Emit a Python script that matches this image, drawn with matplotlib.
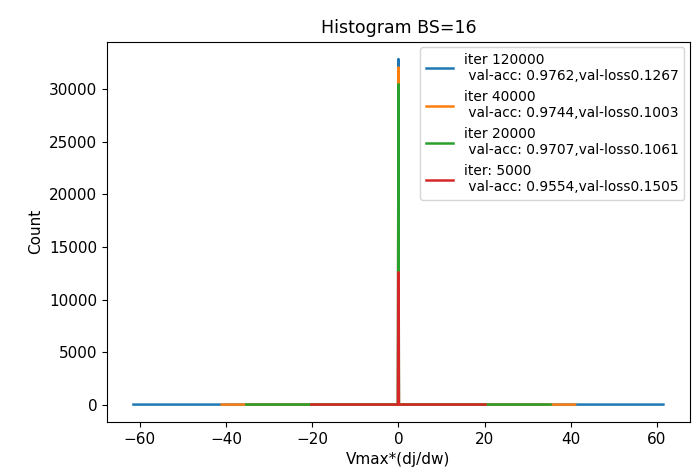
import matplotlib
matplotlib.use("Agg")
import matplotlib.pyplot as plt

# histogram outlines (bin centre, count)
x_120k = [-61.5, -0.1, 0.0, 0.1, 61.5]
c_120k = [0, 0, 32900, 0, 0]

x_40k = [-41.0, -0.1, 0.0, 0.1, 41.0]
c_40k = [0, 0, 32100, 0, 0]

x_20k = [-35.3, -0.1, 0.0, 0.1, 35.3]
c_20k = [0, 0, 30500, 0, 0]

x_5k = [-20.2, -0.1, 0.0, 0.1, 20.2]
c_5k = [0, 0, 12600, 0, 0]

labels = [
    "iter 120000\n val-acc: 0.9762,val-loss0.1267",
    "iter 40000\n val-acc: 0.9744,val-loss0.1003",
    "iter 20000\n val-acc: 0.9707,val-loss0.1061",
    "iter: 5000\n val-acc: 0.9554,val-loss0.1505",
]

plt.rcParams["font.size"] = 11
fig, ax = plt.subplots(figsize=(6.99, 4.74), dpi=100)
for xs, cs, lab in [(x_120k, c_120k, labels[0]), (x_40k, c_40k, labels[1]),
                    (x_20k, c_20k, labels[2]), (x_5k, c_5k, labels[3])]:
    ax.plot(xs, cs, label=lab, linewidth=1.8)

ax.set_title("Histogram BS=16", fontsize=12.5)
ax.set_xlabel("Vmax*(dj/dw)")
ax.set_ylabel("Count")
ax.legend(fontsize=9.9, loc="upper right", handlelength=2.0, borderaxespad=0.4)
fig.subplots_adjust(left=0.153, right=0.987, top=0.912, bottom=0.11)
fig.savefig("out.png", dpi=100)
